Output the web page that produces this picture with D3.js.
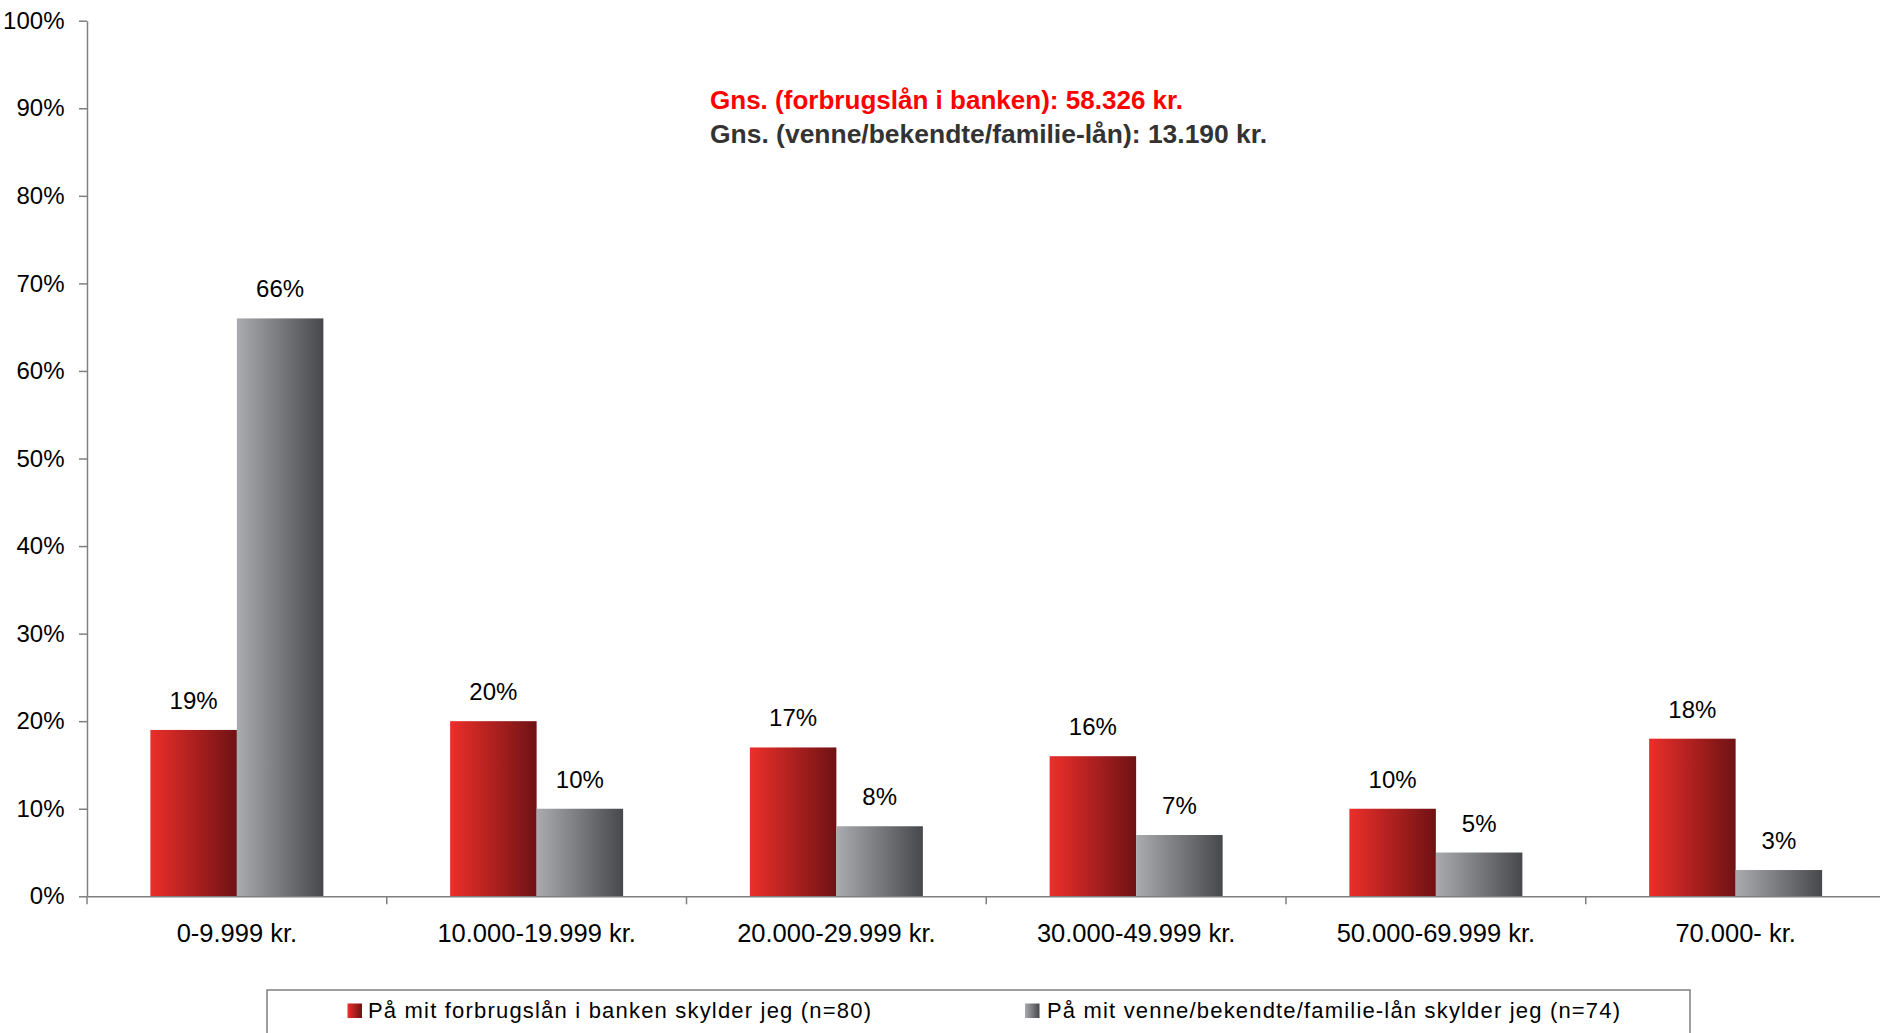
<!DOCTYPE html>
<html><head><meta charset="utf-8">
<script src="https://cdn.jsdelivr.net/npm/d3@7"></script>
<style>
html,body{margin:0;padding:0;background:#fff;}
svg{display:block;font-family:"Liberation Sans",Arial,sans-serif;}
</style></head>
<body>
<svg id="chart" width="1880" height="1033"></svg>
<script>
const categories = ["0-9.999 kr.","10.000-19.999 kr.","20.000-29.999 kr.","30.000-49.999 kr.","50.000-69.999 kr.","70.000- kr."];
const seriesNames = ["På mit forbrugslån i banken skylder jeg (n=80)","På mit venne/bekendte/familie-lån skylder jeg (n=74)"];
const bankValues = [19,20,17,16,10,18];
const friendValues = [66,10,8,7,5,3];
const yTicks = [0,10,20,30,40,50,60,70,80,90,100];
const notes = ["Gns. (forbrugslån i banken): 58.326 kr.","Gns. (venne/bekendte/familie-lån): 13.190 kr."];

const svg = d3.select("#chart");
const defs = svg.append("defs");
function grad(id, c1, c2){
  const g = defs.append("linearGradient").attr("id",id).attr("x1","0").attr("y1","0").attr("x2","1").attr("y2","0");
  g.append("stop").attr("offset","0").attr("stop-color",c1);
  g.append("stop").attr("offset","1").attr("stop-color",c2);
}
grad("gRed","#ec2f2a","#6f1214");
grad("gGrey","#a9abaf","#47484b");
const fills = ["url(#gRed)","url(#gGrey)"];

const x0 = 87, yBase = 896.3, yTop = 20.7;
const band = 299.75;
const x = d3.scaleBand().domain(categories).range([x0, x0 + band*categories.length]).padding(0);
const y = d3.scaleLinear().domain([0,100]).range([yBase, yTop]);
const inner = d3.scaleBand().domain([0,1]).range([0,173]).padding(0);
const offset = (x.bandwidth() - 173)/2;

const data = [bankValues, friendValues];

// Y axis
const yAxis = svg.append("g").attr("transform",`translate(${x0},0)`)
  .call(d3.axisLeft(y).tickValues(yTicks).tickFormat(d=>d+"%").tickSize(8).tickSizeOuter(0));
yAxis.select(".domain").attr("stroke","#7f7f7f").attr("stroke-width",1.5);
yAxis.selectAll(".tick line").attr("stroke","#7f7f7f").attr("stroke-width",1.5);
yAxis.selectAll(".tick text").attr("font-size",24).attr("fill","#000").attr("x",-22.5).attr("dy","0.32em")
  .attr("font-family","Liberation Sans, Arial, sans-serif");

// bars
categories.forEach((c,i)=>{
  data.forEach((s,k)=>{
    const bx = x(c) + offset + inner(k);
    svg.append("rect").attr("x",bx).attr("y",y(s[i])).attr("width",inner.bandwidth()).attr("height",yBase - y(s[i]))
      .attr("fill",fills[k]);
    svg.append("text").attr("x",bx + inner.bandwidth()/2).attr("y",y(s[i]) - 21)
      .attr("text-anchor","middle").attr("font-size",24).attr("fill","#000").text(s[i]+"%");
  });
});

// X axis
const xAxis = svg.append("g").attr("transform",`translate(0,${yBase})`)
  .call(d3.axisBottom(x).tickSize(0).tickSizeOuter(0));
xAxis.select(".domain").attr("stroke","#7f7f7f").attr("stroke-width",1.5);
xAxis.selectAll(".tick text").attr("font-size",25.5).attr("fill","#000").attr("y",46).attr("dy",0)
  .attr("font-family","Liberation Sans, Arial, sans-serif");
const bounds = d3.range(categories.length+1).map(i=>x0 + i*band);
svg.append("g").selectAll("line").data(bounds).join("line")
  .attr("x1",d=>d).attr("x2",d=>d).attr("y1",yBase).attr("y2",yBase+8)
  .attr("stroke","#7f7f7f").attr("stroke-width",1.5);

// notes
svg.append("text").attr("x",710).attr("y",109).attr("font-size",26).attr("font-weight","bold")
  .attr("fill","#ff0000").attr("textLength",473).attr("lengthAdjust","spacingAndGlyphs").text(notes[0]);
svg.append("text").attr("x",710).attr("y",142.5).attr("font-size",26).attr("font-weight","bold")
  .attr("fill","#333333").attr("textLength",557).attr("lengthAdjust","spacingAndGlyphs").text(notes[1]);

// legend
svg.append("rect").attr("x",267).attr("y",990).attr("width",1690-267).attr("height",80)
  .attr("fill","none").attr("stroke","#7f7f7f").attr("stroke-width",1.5);
const legendItems = [
  {sx:347.5, tx:368, w:503},
  {sx:1025, tx:1047, w:573}
];
legendItems.forEach((it,k)=>{
  svg.append("rect").attr("x",it.sx).attr("y",1003.5).attr("width",14.5).attr("height",14.5).attr("fill",fills[k]);
  svg.append("text").attr("x",it.tx).attr("y",1018.3).attr("font-size",22).attr("fill","#000")
    .attr("textLength",it.w).attr("lengthAdjust","spacing").text(seriesNames[k]);
});
</script>
</body></html>
